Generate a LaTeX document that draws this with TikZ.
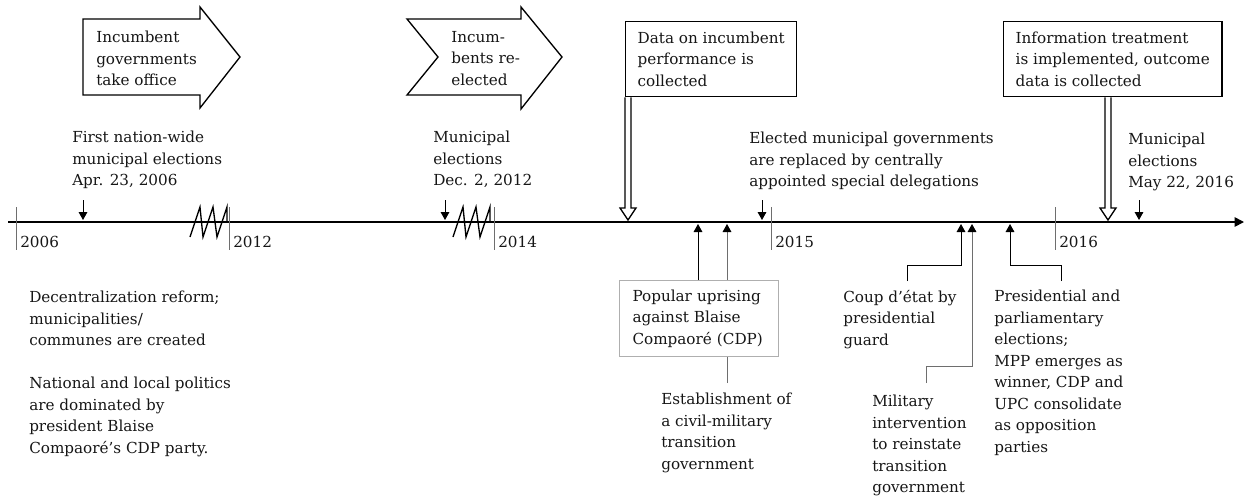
\documentclass[tikz,border=0pt]{standalone}
\usepackage{fontspec}
\setmainfont{DejaVu Serif}
\usetikzlibrary{arrows.meta,positioning,calc}
\definecolor{ink}{RGB}{22,22,22}
\definecolor{rule}{RGB}{110,110,110}
\definecolor{frame}{RGB}{175,175,175}
\newcommand\tlfont{\fontsize{11.4}{16.1}\selectfont\hyphenpenalty=10000}
\tikzset{
  >={Triangle[length=6pt,width=6.5pt,color=black]},
  txt/.style={anchor=north west,inner sep=0pt,align=left,text=ink,font=\tlfont},
  year/.style={anchor=west,inner sep=0pt,text=ink,font=\tlfont},
  evt/.style={->,draw=#1,line width=0.75pt},
  evt/.default=black,
  yeartick/.style={draw=rule,line width=0.75pt},
  phase/.style={draw=black,line width=1pt,fill=white,line join=miter},
  infobox/.style={draw=#1,line width=1pt,fill=white,anchor=north west,
    inner xsep=9pt,inner ysep=0pt,align=left,text=ink,font=\tlfont},
  infobox/.default=black,
  breakmark/.style={line width=1pt,line join=miter},
}
% hollow arrow from a box down to the axis
\newcommand\hollowdown[2]{%
  \draw[phase,fill=none] let \p1=(#1), \p2=(#2) in
    (\x1-2.25pt,\y1) -- (\x1-2.25pt,\y2+9pt) -- (\x1-6pt,\y2+9pt) -- (\x2,\y2)
    -- (\x1+6pt,\y2+9pt) -- (\x1+2.25pt,\y2+9pt) -- (\x1+2.25pt,\y1);
}

\begin{document}
\begin{tikzpicture}[x=0.75pt,y=-0.75pt]
  \useasboundingbox (0,0) rectangle (1244,496);

  % time axis
  \coordinate (axL) at (8,222);
  \coordinate (axR) at (1244,222);
  \draw[line width=1.2pt,-{Triangle[length=7pt,width=7pt]}] (axL) -- (axR);
  \foreach \tx/\yr in {16/2006,229/2012,494/2014,771/2015,1055/2016}{
    \draw[yeartick] (\tx,207) -- (\tx,250);
    \node[year] (y\yr) at (\tx+4,242) {\yr};
  }
  \foreach \bx in {188,451}{
    \draw[breakmark] ({\bx+2},237) -- ({\bx+12},207) -- ({\bx+15},237) -- ({\bx+25},207)
      -- ({\bx+29},237) -- ({\bx+39},207) -- ({\bx+39},222);
  }

  % phases
  \draw[phase] (83,19) -- (200,19) -- (200,7) -- (240,57) -- (200,108) -- (200,95) -- (83,95) -- cycle;
  \node[txt] (take) at (96,31) {Incumbent\\governments\\take office};
  \draw[phase] (407,19) -- (521,19) -- (521,7) -- (562,57) -- (521,109) -- (521,95) -- (407,95) -- (438,57) -- cycle;
  \node[txt] (reel) at (451,31) {Incum-\\bents re-\\elected};

  \node[infobox,minimum height=56.25pt] (data) at (625,21)
    {Data on incumbent\\performance is\\collected};
  \node[infobox,minimum height=56.25pt] (info) at (1003,21)
    {Information treatment\\is implemented, outcome\\data is collected};
  \coordinate (dTip) at (628,220);
  \coordinate (iTip) at (1108,220);
  \hollowdown{data.south west -| dTip}{dTip}
  \hollowdown{info.south west -| iTip}{iTip}

  % events above the axis
  \node[txt] (first) at (72,131) {First nation-wide\\municipal elections\\Apr. 23, 2006};
  \node[txt] (dec) at (433,131) {Municipal\\elections\\Dec. 2, 2012};
  \node[txt] (deleg) at (749,132) {Elected municipal governments\\are replaced by centrally\\appointed special delegations};
  \node[txt] (may) at (1128,133) {Municipal\\elections\\May 22, 2016};
  \foreach \n/\ex in {Apr/83,Dec/445,Del/762,May/1139}{
    \coordinate (s\n) at (\ex,200);
    \coordinate (e\n) at (\ex,220);
    \draw[evt] (s\n) -- (e\n);
  }

  % events below the axis
  \node[txt] (decent) at (29,291) {Decentralization reform;\\municipalities/\\communes are created\\[16.1pt]
    National and local politics\\are dominated by\\president Blaise\\Compaoré’s CDP party.};
  \coordinate (tEst) at (727,224);
  \coordinate (bEst) at (727,383);
  \draw[evt=rule] (bEst) -- (tEst);
  \node[infobox=frame,line width=0.75pt,minimum width=119.25pt,minimum height=57pt,text width=100pt,inner xsep=9.75pt] (upr) at (619,280)
    {Popular uprising\\against Blaise\\Compaoré (CDP)};
  \coordinate (tUpr) at (698,224);
  \draw[evt] (upr.north -| tUpr) -- (tUpr);
  \node[txt] (est) at (661,393) {Establishment of\\a civil-military\\transition\\government};

  \node[txt] (coup) at (843,290) {Coup d’état by\\presidential\\guard};
  \coordinate (tCoup) at (961,224);
  \coordinate (bCoup) at (907,281);
  \draw[evt] (bCoup) -- ++(0,-16) -| (tCoup);

  \node[txt] (mil) at (872,395) {Military\\intervention\\to reinstate\\transition\\government};
  \coordinate (tMil) at (972,224);
  \coordinate (bMil) at (926,383);
  \draw[evt=rule] (bMil) -- ++(0,-17) -| (tMil);

  \node[txt] (pres) at (994,290) {Presidential and\\parliamentary\\elections;\\MPP emerges as\\winner, CDP and\\UPC consolidate\\as opposition\\parties};
  \coordinate (tPres) at (1010,224);
  \coordinate (bPres) at (1061,281);
  \draw[evt] (bPres) -- ++(0,-16) -| (tPres);
\end{tikzpicture}
\end{document}
